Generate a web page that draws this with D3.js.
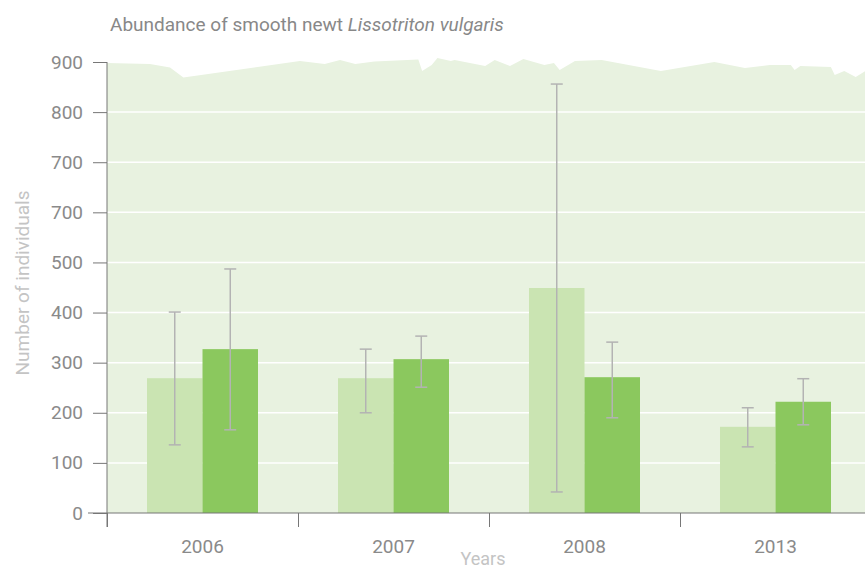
<!DOCTYPE html>
<html>
<head>
<meta charset="utf-8">
<script src="https://cdn.jsdelivr.net/npm/d3@7"></script>
<style>
  body { margin: 0; background: #fff; }
  svg text { font-family: Roboto, "Open Sans", sans-serif; font-weight: 400; }
</style>
</head>
<body>
<svg id="chart" width="865" height="569"></svg>
<script>
// data
const years = ["2006", "2007", "2008", "2013"];
const seriesA = [269, 269, 449, 172];   // light bars
const seriesB = [327, 307, 271, 222];   // dark bars
const errA = [[136, 401], [200, 327], [42, 856], [132, 210]];
const errB = [[166, 487], [251, 353], [190, 341], [176, 268]];
const yTicks = [0, 100, 200, 300, 400, 500, 600, 700, 800, 900];
const yTickLabels = ["0", "100", "200", "300", "400", "500", "700", "700", "800", "900"];
// torn paper edge of the backdrop: [position in year bands, value]
const paperEdge = [
  [0, 898], [0.225, 896], [0.33, 889], [0.40, 869], [1.01, 902], [1.14, 896],
  [1.22, 904], [1.30, 896], [1.40, 901], [1.63, 905], [1.65, 882], [1.70, 894],
  [1.73, 908], [1.80, 902], [1.82, 904], [1.98, 892], [2.03, 904], [2.11, 892],
  [2.18, 906], [2.29, 894], [2.34, 898], [2.37, 884], [2.45, 902], [2.59, 904],
  [2.90, 882], [3.18, 900], [3.34, 888], [3.47, 894], [3.58, 894], [3.60, 884],
  [3.63, 892], [3.79, 890], [3.81, 874], [3.86, 882], [3.92, 870], [3.97, 882],
  [4.0, 882]
];

const margin = { top: 62, left: 107, bottom: 56 };
const width = 865, height = 569;
const plotW = 764; // runs a bit past the right edge like the original

const svg = d3.select("#chart");

const x = d3.scaleBand().domain(years).range([margin.left, margin.left + plotW]);
const xPos = d3.scaleLinear().domain([0, 4]).range([margin.left, margin.left + plotW]);
const y = d3.scaleLinear().domain([0, 900]).range([height - margin.bottom, margin.top]);

const inner = d3.scaleBand().domain(["a", "b"]).range([0, 111]);
const groupOffset = (x.bandwidth() - 111) / 2;

// backdrop
const area = d3.area()
  .x(d => xPos(d[0]))
  .y0(y(0))
  .y1(d => y(d[1]));
svg.append("path")
  .datum(paperEdge)
  .attr("d", area)
  .attr("fill", "#e8f2e0");

// gridlines
svg.append("g")
  .selectAll("line")
  .data(yTicks.slice(1, -1))
  .join("line")
  .attr("x1", margin.left)
  .attr("x2", width)
  .attr("y1", d => y(d))
  .attr("y2", d => y(d))
  .attr("stroke", "#fff")
  .attr("stroke-width", 1.5);

// bars
const groups = svg.append("g")
  .selectAll("g")
  .data(years.map((yr, i) => ({ yr, a: seriesA[i], b: seriesB[i], ea: errA[i], eb: errB[i] })))
  .join("g")
  .attr("transform", d => `translate(${x(d.yr) + groupOffset},0)`);

groups.append("rect")
  .attr("x", inner("a"))
  .attr("width", inner.bandwidth())
  .attr("y", d => y(d.a))
  .attr("height", d => y(0) - y(d.a))
  .attr("fill", "#cae4b2");

groups.append("rect")
  .attr("x", inner("b"))
  .attr("width", inner.bandwidth())
  .attr("y", d => y(d.b))
  .attr("height", d => y(0) - y(d.b))
  .attr("fill", "#8bc85e");

// error bars
function errorBar(sel, key, series) {
  const cx = inner(key) + inner.bandwidth() / 2;
  const g = sel.append("g").attr("stroke", "#b3b3b3").attr("stroke-width", 1.5);
  g.append("line")
    .attr("x1", cx).attr("x2", cx)
    .attr("y1", d => y(d[series][0]))
    .attr("y2", d => y(d[series][1]));
  g.append("line")
    .attr("x1", cx - 6).attr("x2", cx + 6)
    .attr("y1", d => y(d[series][0]))
    .attr("y2", d => y(d[series][0]));
  g.append("line")
    .attr("x1", cx - 6).attr("x2", cx + 6)
    .attr("y1", d => y(d[series][1]))
    .attr("y2", d => y(d[series][1]));
}
errorBar(groups, "a", "ea");
errorBar(groups, "b", "eb");

// y axis
const yAxis = svg.append("g")
  .attr("transform", `translate(${margin.left},0)`)
  .call(d3.axisLeft(y)
    .tickValues(yTicks)
    .tickSize(14)
    .tickPadding(10)
    .tickFormat((d, i) => yTickLabels[i]));
yAxis.select(".domain").remove();
yAxis.selectAll(".tick line").attr("stroke", "#777");
yAxis.selectAll("text")
  .attr("fill", "#8a8a8a")
  .style("font-size", "19px");
svg.append("line")
  .attr("x1", margin.left).attr("x2", margin.left)
  .attr("y1", y(900)).attr("y2", y(0) + 14)
  .attr("stroke", "#777");

// x axis
const xAxis = svg.append("g")
  .attr("transform", `translate(0,${y(0)})`)
  .call(d3.axisBottom(xPos).tickValues([0, 1, 2, 3]).tickSize(14).tickFormat(""));
xAxis.select(".domain").remove();
xAxis.selectAll(".tick line").attr("stroke", "#777");
svg.append("line")
  .attr("x1", 88).attr("x2", width)
  .attr("y1", y(0)).attr("y2", y(0))
  .attr("stroke", "#777")
  .attr("stroke-width", 1.2);

svg.append("g")
  .selectAll("text")
  .data(years)
  .join("text")
  .attr("x", d => x(d) + x.bandwidth() / 2)
  .attr("y", 553)
  .attr("text-anchor", "middle")
  .attr("fill", "#8a8a8a")
  .style("font-size", "19px")
  .text(d => d);

// axis titles
svg.append("text")
  .attr("x", xPos(2) - 6)
  .attr("y", 565)
  .attr("text-anchor", "middle")
  .attr("fill", "#c4c4c4")
  .style("font-size", "18px")
  .text("Years");

svg.append("text")
  .attr("transform", `translate(29,${y(459)}) rotate(-90)`)
  .attr("text-anchor", "middle")
  .attr("fill", "#c4c4c4")
  .style("font-size", "19px")
  .text("Number of individuals");

// title
const title = svg.append("text")
  .attr("x", 110)
  .attr("y", 31)
  .attr("fill", "#888")
  .style("font-size", "19px");
title.append("tspan").text("Abundance of smooth newt ");
title.append("tspan").style("font-style", "italic").text("Lissotriton vulgaris");
</script>
</body>
</html>
